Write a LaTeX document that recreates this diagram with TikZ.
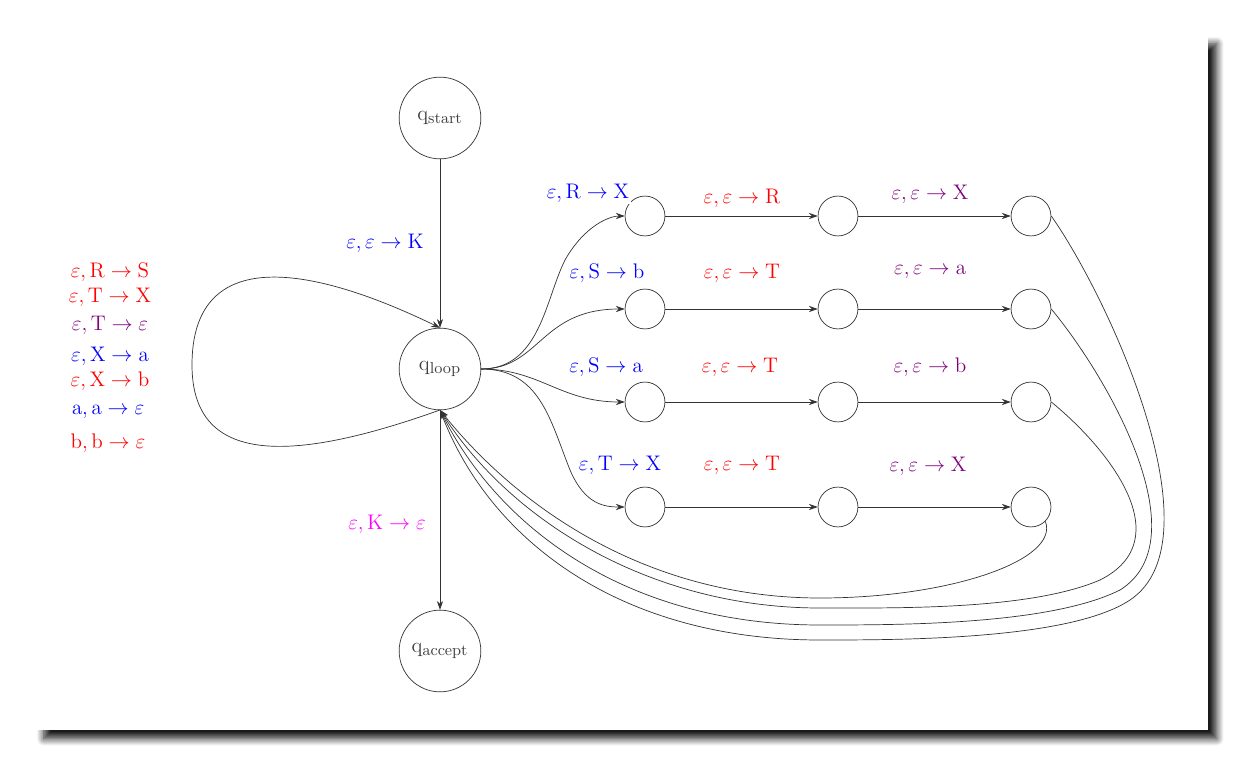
\documentclass[tikz,border=0pt]{standalone}
\usetikzlibrary{arrows.meta,shadows.blur}
\definecolor{pur}{HTML}{800080}
\definecolor{mag}{HTML}{FF00FF}
\begin{document}
\begin{tikzpicture}[x=0.02cm,y=-0.02cm,
  big/.style={circle,draw=black!80,minimum size=46.5pt,inner sep=0pt,text=black!75,font=\fontsize{13}{16}\selectfont},
  sm/.style={circle,draw=black!80,minimum size=22.7pt,inner sep=0pt},
  lab/.style={font=\fontsize{12.8}{16}\selectfont,inner sep=1pt},
  ar/.style={draw=black!80,-{Stealth[length=5pt,width=3.5pt]}},
  ln/.style={draw=black!80}]
\useasboundingbox (0,0) rectangle (1244,766);
\fill[white,blur shadow={shadow xshift=5pt,shadow yshift=-5pt,shadow blur radius=4pt,shadow blur steps=12,shadow opacity=90}] (35,35) rectangle (1208,730);
\node[big] (st) at (440,118) {$\mathrm{q}_{\mathrm{start}}$};
\node[big] (lp) at (440,369) {$\mathrm{q}_{\mathrm{loop}}$};
\node[big] (ac) at (440,651) {$\mathrm{q}_{\mathrm{accept}}$};
\foreach \r/\y in {1/216,2/309,3/402,4/507}{
  \node[sm] (a\r) at (645,\y) {};
  \node[sm] (b\r) at (838,\y) {};
  \node[sm] (c\r) at (1031,\y) {};
  \draw[ar] (a\r) -- (b\r);
  \draw[ar] (b\r) -- (c\r);
}
\draw[ar] (st) -- (lp);
\draw[ar] (lp) -- (ac);
\node[lab,text=blue] (l1) at (385,243) {$\varepsilon,\varepsilon\rightarrow\mathrm{K}$};
\node[lab,text=mag] (l2) at (387,524) {$\varepsilon,\mathrm{K}\rightarrow\varepsilon$};
% self loop
\coordinate (sl) at (440,410);
\draw[ar] (sl) .. controls (300,460) and (192,470) .. (192,365) .. controls (192,250) and (300,260) .. (lp.north);
% left labels
\node[lab,text=red] at (110,272) {$\varepsilon,\mathrm{R}\rightarrow\mathrm{S}$};
\node[lab,text=red] at (110,297) {$\varepsilon,\mathrm{T}\rightarrow\mathrm{X}$};
\node[lab,text=pur] at (110,325) {$\varepsilon,\mathrm{T}\rightarrow\varepsilon$};
\node[lab,text=blue] at (110,356) {$\varepsilon,\mathrm{X}\rightarrow\mathrm{a}$};
\node[lab,text=red] at (110,381) {$\varepsilon,\mathrm{X}\rightarrow\mathrm{b}$};
\node[lab,text=blue] at (108,412) {$\mathrm{a},\mathrm{a}\rightarrow\varepsilon$};
\node[lab,text=red] at (108,443) {$\mathrm{b},\mathrm{b}\rightarrow\varepsilon$};
% out edges
\coordinate (o) at (481,369);
\draw[ar] (o) .. controls (540,369) and (545,300) .. (565,260) .. controls (585,225) and (610,216) .. (a1.west);
\draw[ar] (o) .. controls (540,369) and (540,309) .. (a2.west);
\draw[ar] (o) .. controls (540,369) and (560,402) .. (a3.west);
\draw[ar] (o) .. controls (540,369) and (550,420) .. (570,470) .. controls (585,505) and (605,507) .. (a4.west);
\node[lab,text=blue,fill=white] at (588,193) {$\varepsilon,\mathrm{R}\rightarrow\mathrm{X}$};
\node[lab,text=blue] at (607,273) {$\varepsilon,\mathrm{S}\rightarrow\mathrm{b}$};
\node[lab,text=blue] at (606,367) {$\varepsilon,\mathrm{S}\rightarrow\mathrm{a}$};
\node[lab,text=blue] at (620,465) {$\varepsilon,\mathrm{T}\rightarrow\mathrm{X}$};
\node[lab,text=red] at (742,198) {$\varepsilon,\varepsilon\rightarrow\mathrm{R}$};
\node[lab,text=red] at (742,273) {$\varepsilon,\varepsilon\rightarrow\mathrm{T}$};
\node[lab,text=red] at (740,367) {$\varepsilon,\varepsilon\rightarrow\mathrm{T}$};
\node[lab,text=red] at (742,465) {$\varepsilon,\varepsilon\rightarrow\mathrm{T}$};
\node[lab,text=pur] at (930,194) {$\varepsilon,\varepsilon\rightarrow\mathrm{X}$};
\node[lab,text=pur] at (930,272) {$\varepsilon,\varepsilon\rightarrow\mathrm{a}$};
\node[lab,text=pur] at (930,367) {$\varepsilon,\varepsilon\rightarrow\mathrm{b}$};
\node[lab,text=pur] at (928,466) {$\varepsilon,\varepsilon\rightarrow\mathrm{X}$};
% return edges
\draw[ar] (c4.south east) .. controls (1060,560) and (950,598) .. (820,598) .. controls (650,598) and (520,510) .. (sl);
\draw[ar] (c3.east) .. controls (1110,450) and (1180,540) .. (1100,580) .. controls (1030,610) and (900,608) .. (820,608) .. controls (650,608) and (510,520) .. (sl);
\draw[ar] (c2.east) .. controls (1110,380) and (1200,540) .. (1120,590) .. controls (1050,625) and (900,625) .. (820,625) .. controls (630,625) and (500,530) .. (sl);
\draw[ar] (c1.east) .. controls (1110,300) and (1220,540) .. (1130,600) .. controls (1070,640) and (900,640) .. (820,640) .. controls (620,640) and (490,540) .. (sl);
\end{tikzpicture}
\end{document}
